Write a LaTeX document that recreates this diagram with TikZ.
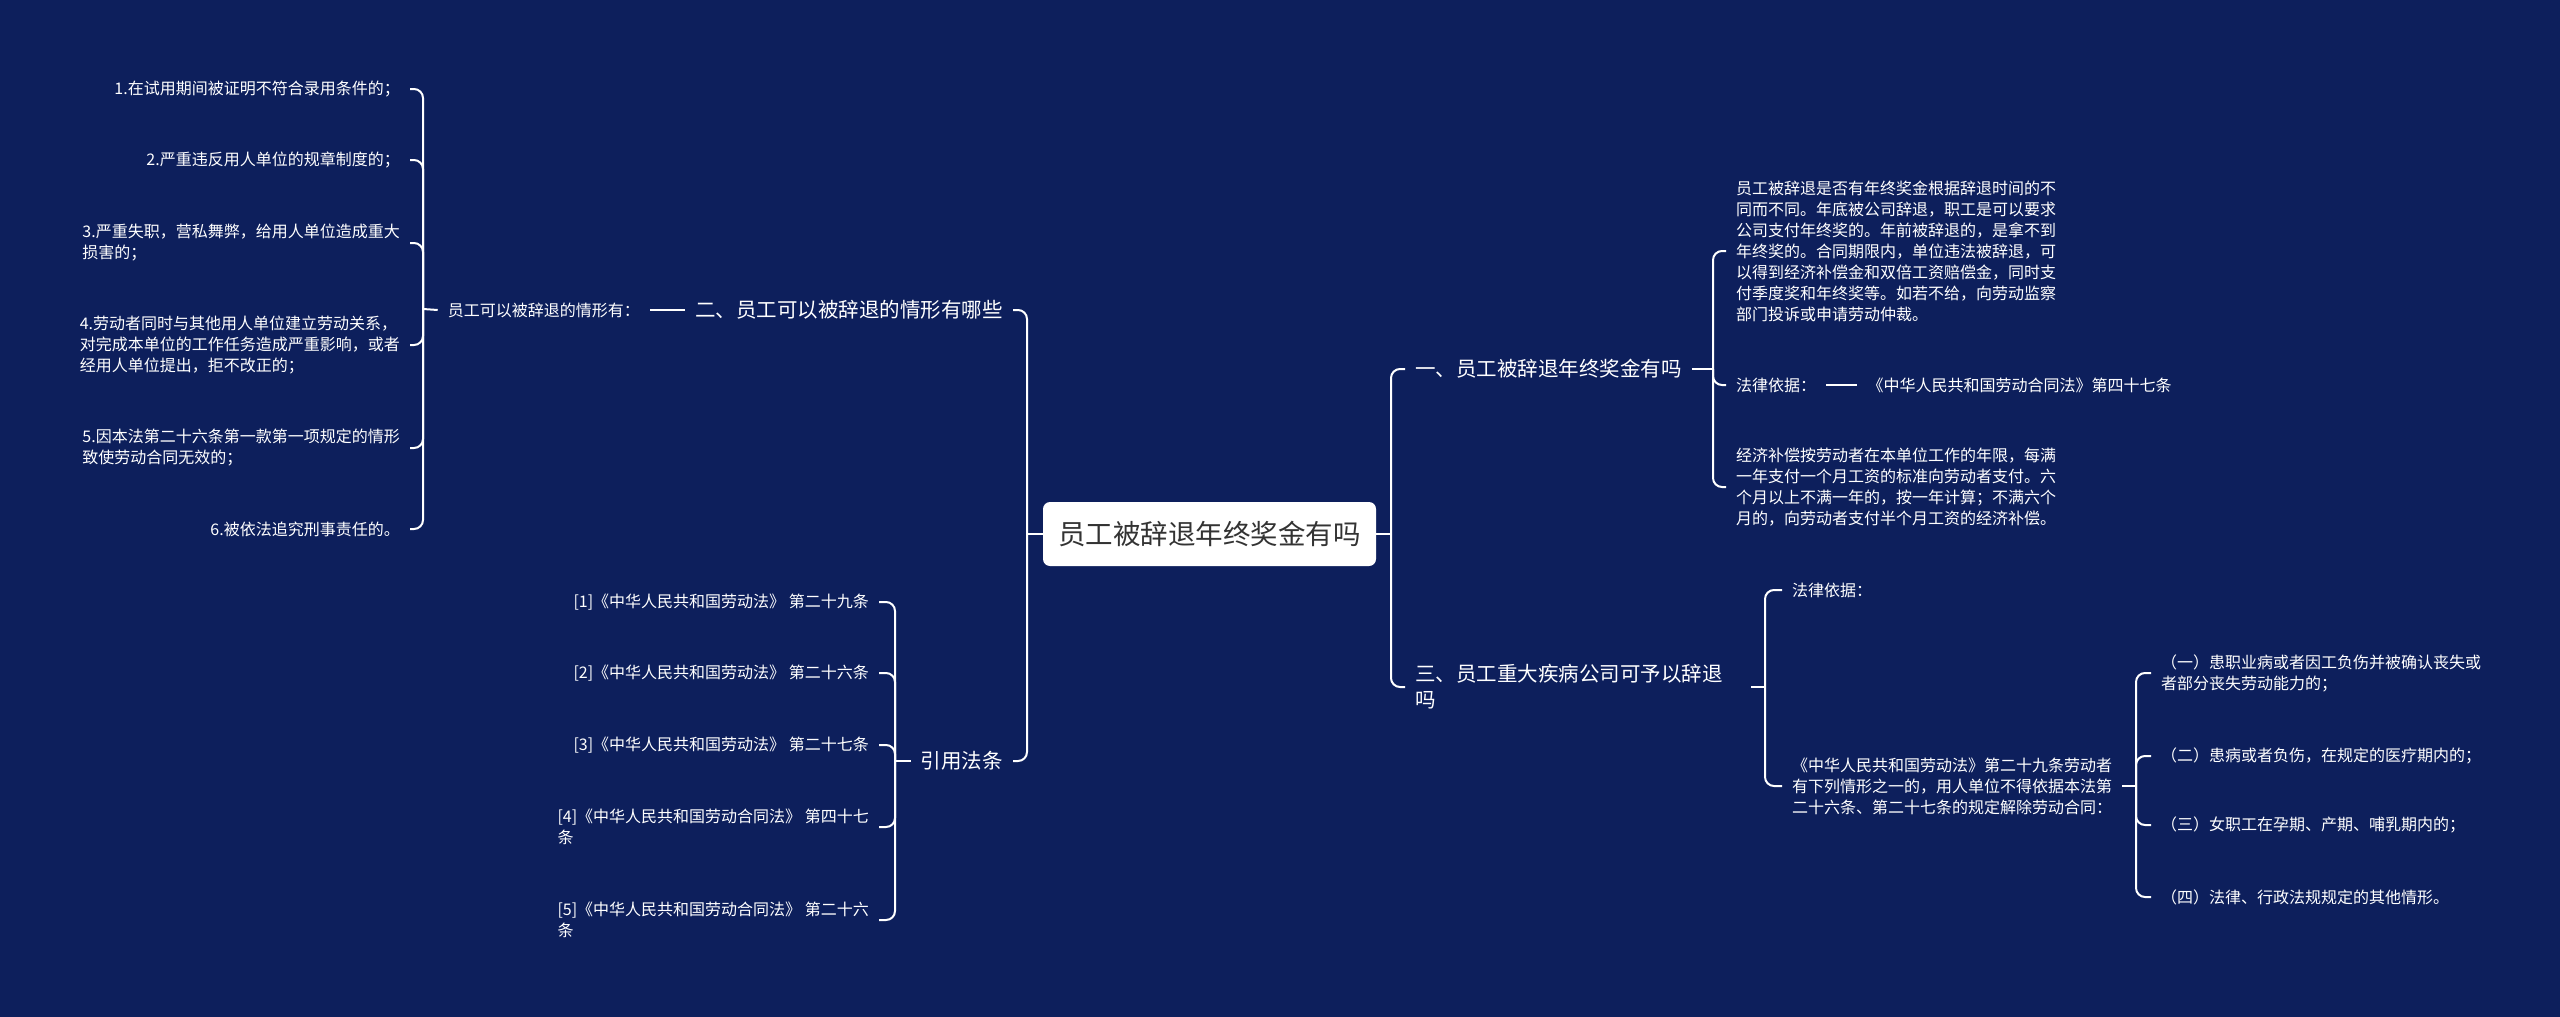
\documentclass[tikz,border=0pt]{standalone}
\usepackage{fontspec}
\setmainfont{Noto Sans CJK SC}
\usepackage{tikz}
\usetikzlibrary{positioning,calc}
\definecolor{navybg}{HTML}{0D1F5C}
\definecolor{roottext}{HTML}{333333}
\tikzset{
  tnode/.style  ={inner xsep=10pt, inner ysep=3pt, text=white, align=left},
  rootbox/.style={rectangle, rounded corners=7pt, fill=white, text=roottext,
                  minimum width=333pt, minimum height=64pt, inner sep=0pt,
                  font=\fontsize{27.5}{33}\selectfont},
  topic/.style  ={tnode, font=\fontsize{20.5}{26}\selectfont},
  leaf/.style   ={tnode, font=\fontsize{16}{21}\selectfont},
  % bracket branch: vertical bus, one rounded turn into the child
  link/.style   ={draw=white, line width=2pt, rounded corners=9pt},
  dashlink/.style={draw=white, line width=2pt},
}
\def\dismisslist{%
  i1/89/{1.在试用期间被证明不符合录用条件的；},
  i2/160/{2.严重违反用人单位的规章制度的；},
  i3/243/{3.严重失职，营私舞弊，给用人单位造成重大\\损害的；},
  i4/345/{4.劳动者同时与其他用人单位建立劳动关系，\\对完成本单位的工作任务造成严重影响，或者\\经用人单位提出，拒不改正的；},
  i5/448/{5.因本法第二十六条第一款第一项规定的情形\\致使劳动合同无效的；},
  i6/529/{6.被依法追究刑事责任的。}}
\def\lawlist{%
  r1/602/{[1]《中华人民共和国劳动法》 第二十九条},
  r2/673/{[2]《中华人民共和国劳动法》 第二十六条},
  r3/745/{[3]《中华人民共和国劳动法》 第二十七条},
  r4/827/{[4]《中华人民共和国劳动合同法》 第四十七\\条},
  r5/920/{[5]《中华人民共和国劳动合同法》 第二十六\\条}}
\def\illnesslist{%
  c1/673/{（一）患职业病或者因工负伤并被确认丧失或\\者部分丧失劳动能力的；},
  c2/756/{（二）患病或者负伤，在规定的医疗期内的；},
  c3/825/{（三）女职工在孕期、产期、哺乳期内的；},
  c4/897/{（四）法律、行政法规规定的其他情形。}}

\begin{document}
\begin{tikzpicture}[x=1pt,y=-1pt]
\fill[navybg] (0,0) rectangle (2560,1017);
\useasboundingbox (0,0) rectangle (2560,1017);

\node[rootbox] (root) at (1209.5,534) {员工被辞退年终奖金有吗};

% left side
\node[topic,anchor=east] (t2) at (1013,310) {二、员工可以被辞退的情形有哪些};
\node[topic,anchor=east] (t4) at (1013,761) {引用法条};
\node[leaf,anchor=east,left=35pt of t2] (sit) {员工可以被辞退的情形有：};
\foreach \n/\y/\t in \dismisslist
  {\node[leaf,anchor=east] (\n) at (410,\y) {\t};}
\foreach \n/\y/\t in \lawlist
  {\node[leaf,anchor=east] (\n) at (879,\y) {\t};}

\coordinate (lb0) at (1027,534);
\coordinate (lb1) at (423,309);
\coordinate (lb2) at (895,761);
\draw[link] (root.west) -- (lb0);
\foreach \n in {t2,t4} {\draw[link] (lb0) |- (\n.east);}
\draw[dashlink] (t2.west) -- (sit.east);
\draw[link] (sit.west) -- (lb1);
\foreach \n in {i1,i2,i3,i4,i5,i6} {\draw[link] (lb1) |- (\n.east);}
\draw[link] (t4.west) -- (lb2);
\foreach \n in {r1,r2,r3,r4,r5} {\draw[link] (lb2) |- (\n.east);}

% right side
\node[topic,anchor=west] (t1) at (1405,369) {一、员工被辞退年终奖金有吗};
\node[topic,anchor=west,text width=326pt] (t3) at (1405,687) {三、员工重大疾病公司可予以辞退\\吗};

\node[leaf,anchor=west] (a1) at (1726,251) {员工被辞退是否有年终奖金根据辞退时间的不\\同而不同。年底被公司辞退，职工是可以要求\\公司支付年终奖的。年前被辞退的，是拿不到\\年终奖的。合同期限内，单位违法被辞退，可\\以得到经济补偿金和双倍工资赔偿金，同时支\\付季度奖和年终奖等。如若不给，向劳动监察\\部门投诉或申请劳动仲裁。};
\node[leaf,anchor=west] (a2) at (1726,385) {法律依据：};
\node[leaf,anchor=west,right=31pt of a2] (a2law) {《中华人民共和国劳动合同法》第四十七条};
\node[leaf,anchor=west] (a3) at (1726,487) {经济补偿按劳动者在本单位工作的年限，每满\\一年支付一个月工资的标准向劳动者支付。六\\个月以上不满一年的，按一年计算；不满六个\\月的，向劳动者支付半个月工资的经济补偿。};

\node[leaf,anchor=west] (b1) at (1782,590) {法律依据：};
\node[leaf,anchor=west] (b2) at (1782,786) {《中华人民共和国劳动法》第二十九条劳动者\\有下列情形之一的，用人单位不得依据本法第\\二十六条、第二十七条的规定解除劳动合同：};
\foreach \n/\y/\t in \illnesslist
  {\node[leaf,anchor=west] (\n) at (2151,\y) {\t};}

\coordinate (rb0) at (1391,534);
\coordinate (rb1) at (1713,369);
\coordinate (rb3) at (1765,687);
\coordinate (rb4) at (2136,786);
\draw[link] (root.east) -- (rb0);
\foreach \n in {t1,t3} {\draw[link] (rb0) |- (\n.west);}
\draw[link] (t1.east) -- (rb1);
\foreach \n in {a1,a2,a3} {\draw[link] (rb1) |- (\n.west);}
\draw[dashlink] (a2.east) -- (a2law.west);
\draw[link] (t3.east) -- (rb3);
\foreach \n in {b1,b2} {\draw[link] (rb3) |- (\n.west);}
\draw[link] (b2.east) -- (rb4);
\foreach \n in {c1,c2,c3,c4} {\draw[link] (rb4) |- (\n.west);}
\end{tikzpicture}
\end{document}
